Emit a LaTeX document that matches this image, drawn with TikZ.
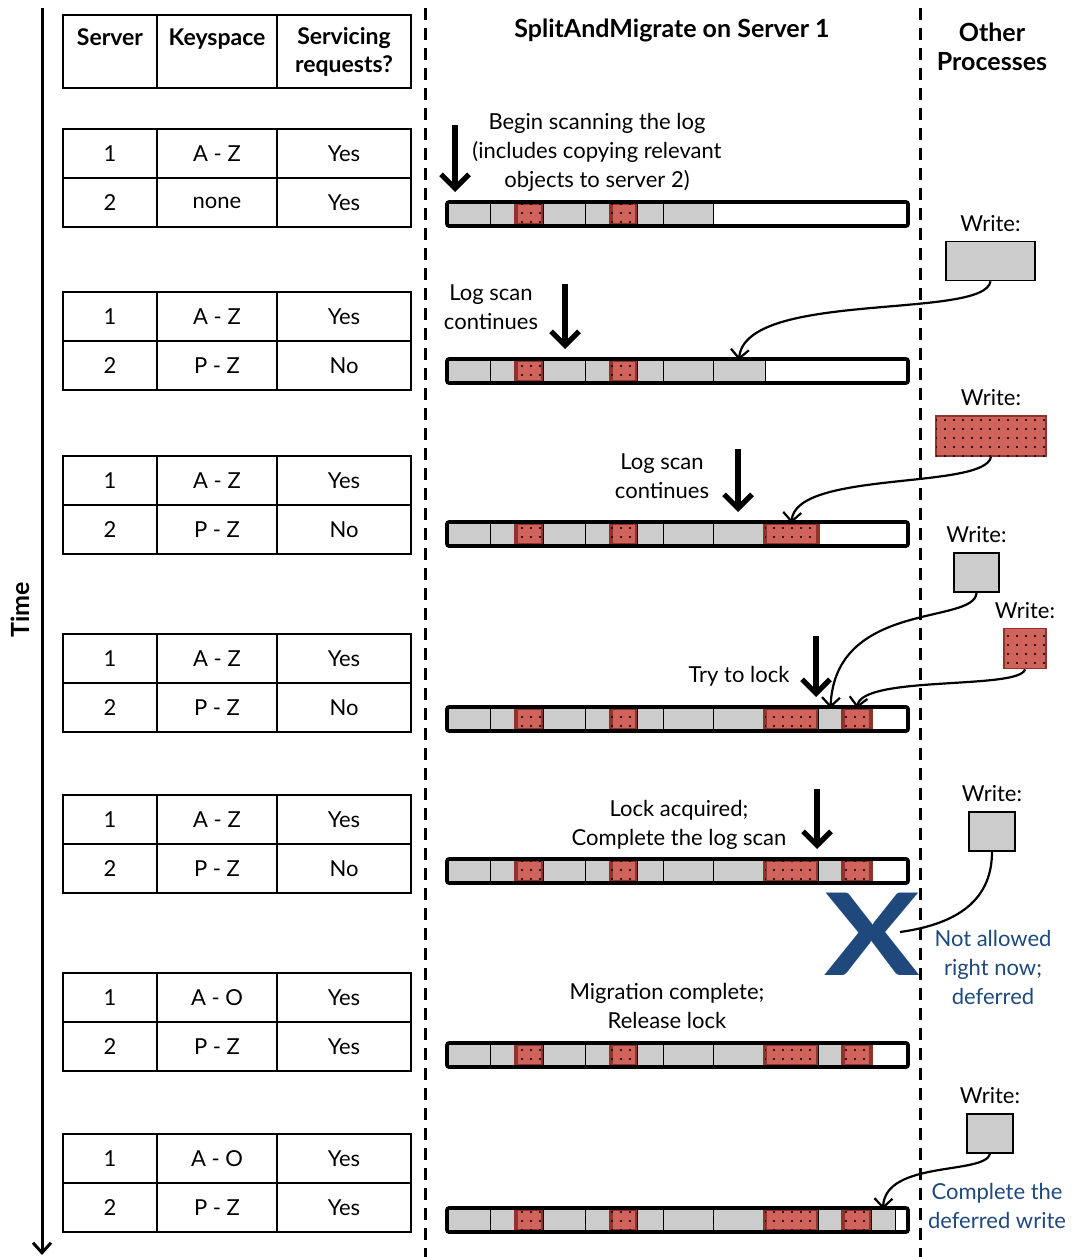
\documentclass[tikz,border=0pt]{standalone}
\usepackage{fontspec}
\setmainfont{Lato}
\usepackage{tikz}
\usetikzlibrary{positioning, arrows.meta, patterns.meta}
\definecolor{logGray}{HTML}{CCCCCC}
\definecolor{logRed}{HTML}{D0645C}
\definecolor{logRedB}{HTML}{8E342C}
\definecolor{noteBlue}{HTML}{1F497D}
\newcommand{\logsegs}{447/490/g,490/516/g,516/543/r,543/585/g,585/611/g,611/637/r,637/663/g,663/713/g,713/765/g,765/818/r,818/843/g,843/871/r,871/895/g}
\newcommand{\logbar}[3]{%
\node[logbox] (#1) at (677.5,#2) {};
\foreach \xa/\xb/\kind [count=\i] in \logsegs {\ifnum\i>#3\relax\else
\node[seg\kind, minimum width={(\xb-\xa)*0.5pt}] (#1-\i) at ({(\xa+\xb)/2},#2) {};\fi}
\draw[logedge] (#1.north west) rectangle (#1.south east);}
\newcommand{\keytable}[6]{%
\node[cellA, anchor=north west] (#1a1) at (63,#2) {1};
\node[cellB, right=0pt of #1a1] (#1b1) {#3};
\node[cellC, right=0pt of #1b1] (#1c1) {#5};
\node[cellA, below=0pt of #1a1] (#1a2) {2};
\node[cellB, right=0pt of #1a2] (#1b2) {#4};
\node[cellC, right=0pt of #1b2] (#1c2) {#6};}

\begin{document}
\begin{tikzpicture}[x=0.5pt, y=-0.5pt, font=\fontsize{11}{14.5}\selectfont,
cell/.style={draw, line width=1pt, inner sep=0pt, outer sep=0pt, minimum height=24.5pt},
cellA/.style={cell, minimum width=47pt}, cellB/.style={cell, minimum width=60pt}, cellC/.style={cell, minimum width=67pt},
hdr/.style={cell, minimum height=36.5pt, align=center, font=\fontsize{11.5}{14}\selectfont\bfseries},
head/.style={align=center, font=\fontsize{12.5}{14.5}\selectfont\bfseries},
note/.style={align=center},
logbox/.style={fill=white, minimum width=230.5pt, minimum height=12pt, inner sep=0pt, outer sep=0pt},
logedge/.style={line width=1.8pt, rounded corners=1pt},
segg/.style={draw=black, line width=0.5pt, fill=logGray, minimum height=11pt, inner sep=0pt, outer sep=0pt},
segr/.style={draw=logRedB, line width=1.8pt, fill=logRed, rounded corners=0.8pt, minimum height=11pt, inner sep=0pt, outer sep=0pt, postaction={pattern={Dots[distance=4.5pt, radius=0.55pt]}, pattern color=black}},
wgray/.style={draw, line width=0.8pt, fill=logGray, inner sep=0pt, minimum height=19.5pt},
wred/.style={draw=logRedB, line width=0.8pt, fill=logRed, inner sep=0pt, minimum height=20pt, postaction={pattern={Dots[distance=4.5pt, radius=0.55pt]}, pattern color=black}},
scan/.style={line width=2.6pt, -{Straight Barb[length=7pt, width=14pt]}, shorten >=5pt},
wr/.style={line width=1.1pt, -{Straight Barb[length=4.5pt, width=9pt]}},
divide/.style={line width=1.5pt, dash pattern=on 6pt off 4pt}]
\useasboundingbox (0,0) rectangle (1076,1257);
\coordinate (t0) at (42,8); \coordinate (t1) at (42,1255);
\draw[line width=1.5pt, -{Straight Barb[length=5pt, width=9pt]}] (t0) -- (t1);
\node[head, rotate=90] (time) at (20,610) {Time};
\coordinate (d1a) at (425,8); \coordinate (d1b) at (425,1257);
\coordinate (d2a) at (920,8); \coordinate (d2b) at (920,1257);
\draw[divide] (d1a) -- (d1b); \draw[divide] (d2a) -- (d2b);
\node[hdr, minimum width=47pt, anchor=north west] (h1) at (63,15) {Server\\\mbox{}};
\node[hdr, minimum width=60pt, right=0pt of h1] (h2) {Keyspace\\\mbox{}};
\node[hdr, minimum width=67pt, right=0pt of h2] (h3) {Servicing\\requests?};
\node[head] (title) at (672,30) {SplitAndMigrate on Server 1};
\node[head] (other) at (992,47) {Other\\Processes};
\keytable{ta}{129}{A - Z}{none}{Yes}{Yes}
\keytable{tb}{292}{A - Z}{P - Z}{Yes}{No}
\keytable{tc}{456}{A - Z}{P - Z}{Yes}{No}
\keytable{td}{634}{A - Z}{P - Z}{Yes}{No}
\keytable{te}{795}{A - Z}{P - Z}{Yes}{No}
\keytable{tf}{973}{A - O}{P - Z}{Yes}{Yes}
\keytable{tg}{1134}{A - O}{P - Z}{Yes}{Yes}
\logbar{b1}{214}{8}
\logbar{b2}{371}{9}
\logbar{b3}{534}{10}
\logbar{b4}{719}{12}
\logbar{b5}{871}{12}
\logbar{b6}{1055}{12}
\logbar{b7}{1220}{13}
\node[note] (n1) at (597,152) {Begin scanning the log\\(includes copying relevant\\objects to server 2)};
\node[note] (n2) at (491,307) {Log scan\\continues};
\node[note] (n3) at (662,476) {Log scan\\continues};
\node[note] (n4) at (739,676) {Try to lock};
\node[note] (n5) at (679,825) {Lock acquired;\\Complete the log scan};
\node[note] (n6) at (667,1006) {Migration complete;\\Release lock};
\coordinate (s1) at (455,125); \coordinate (s2) at (565,284); \coordinate (s3) at (738,449);
\coordinate (s4) at (816,636); \coordinate (s5) at (817,789);
\draw[scan] (s1) -- (s1 |- b1.north);
\draw[scan] (s2) -- (s2 |- b2.north);
\draw[scan] (s3) -- (s3 |- b3.north);
\draw[scan] (s4) -- (s4 |- b4.north);
\draw[scan] (s5) -- (s5 |- b5.north);
\node[wgray, minimum width=44.5pt] (w1) at (990.5,261) {};
\node[wred, minimum width=55pt] (w2) at (991,436) {};
\node[wgray, minimum width=22.5pt] (w3) at (976.5,572.5) {};
\node[wred, minimum width=21pt] (w4) at (1025,648.5) {};
\node[wgray, minimum width=23pt] (w5) at (992,831.5) {};
\node[wgray, minimum width=23pt] (w6) at (990,1133.5) {};
\node[note, above=1pt of w1] (w1t) {Write:};
\node[note, above=1pt of w2] (w2t) {Write:};
\node[note, above=1pt of w3] (w3t) {Write:};
\node[note, above=1pt of w4] (w4t) {Write:};
\node[note, above=1pt of w5] (w5t) {Write:};
\node[note, above=1pt of w6] (w6t) {Write:};
\node[font=\fontsize{57}{57}\selectfont\bfseries, text=noteBlue, xscale=1.25, inner sep=0pt] (nx) at (872,934) {X};
\coordinate (xe) at (900,932);
\draw[wr] (w1.south) .. controls (985,320) and (745,290) .. (b2-9.north);
\draw[wr] (w2.south) .. controls (985,490) and (795,470) .. (b3-10.north);
\draw[wr] (w3.south) .. controls (975,625) and (835,600) .. (b4-11.north);
\draw[wr] (w4.south) .. controls (1020,690) and (862,675) .. (b4-12.north);
\draw[line width=1.1pt] (w5.south) .. controls (992,905) and (950,925) .. (xe);
\draw[wr] (w6.south) .. controls (985,1175) and (885,1160) .. (b7-13.north);
\node[note, text=noteBlue] (nb1) at (993,967) {Not allowed\\right now;\\deferred};
\node[note, text=noteBlue] (nb2) at (997,1206) {Complete the\\deferred write};
\end{tikzpicture}
\end{document}
